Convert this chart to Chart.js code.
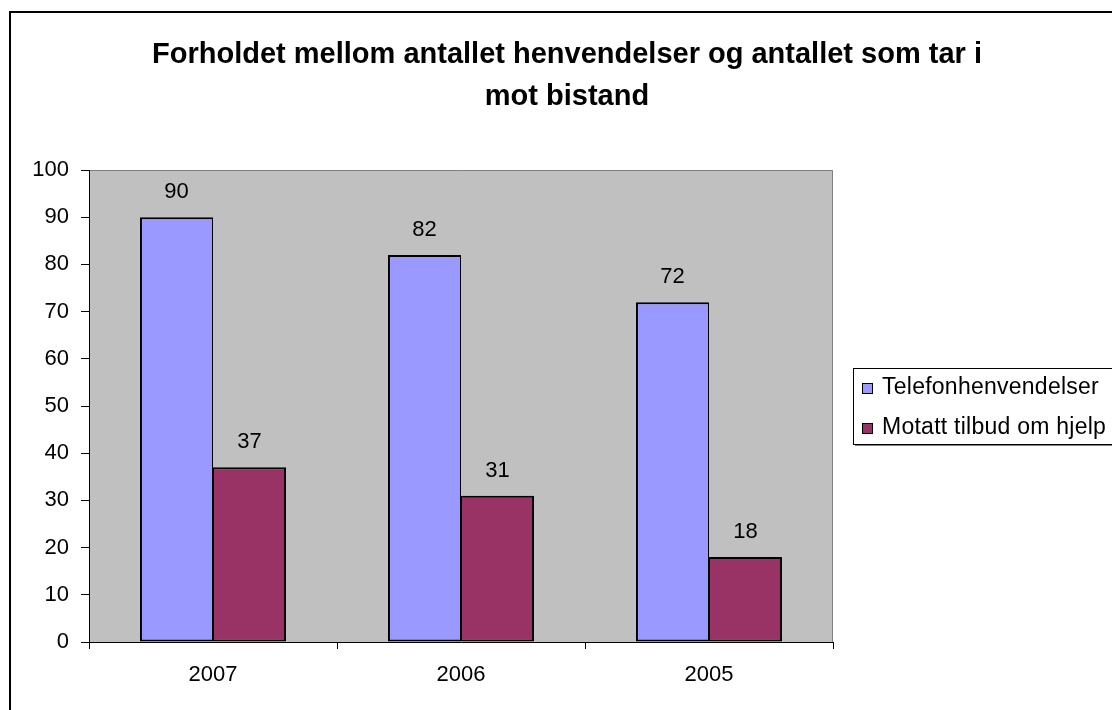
<!DOCTYPE html>
<html>
<head>
<meta charset="utf-8">
<title>Forholdet mellom antallet henvendelser og antallet som tar i mot bistand</title>
<script src="https://cdn.jsdelivr.net/npm/chart.js@4"></script>
<style>
  html, body { margin: 0; padding: 0; background: #fff; overflow: hidden; }
  #wrap { width: 1112px; height: 710px; }
</style>
</head>
<body>
<div id="wrap"><canvas id="chart" width="1112" height="710"></canvas></div>
<script>
// ---- data ----
const categories   = ['2007', '2006', '2005'];
const seriesNames  = ['Telefonhenvendelser', 'Motatt tilbud om hjelp'];
const telefon      = [90, 82, 72];
const motatt       = [37, 31, 18];
const yMin = 0, yMax = 100, yStep = 10;
const titleLines   = ['Forholdet mellom antallet henvendelser og antallet som tar i', 'mot bistand'];
const seriesColors = ['#9999FF', '#993366'];

const FONT = '"Liberation Sans", Arial, Helvetica, sans-serif';

// plot background, title, legend, frame and value labels
const decorPlugin = {
  id: 'decor',
  beforeDraw(chart) {
    const { ctx, chartArea: a } = chart;
    ctx.save();
    ctx.fillStyle = '#C0C0C0';
    ctx.fillRect(a.left, a.top, a.right - a.left, a.bottom - a.top);
    ctx.strokeStyle = '#808080';
    ctx.lineWidth = 1;
    ctx.beginPath();
    ctx.moveTo(a.left, a.top + 0.5);
    ctx.lineTo(a.right - 0.5, a.top + 0.5);
    ctx.lineTo(a.right - 0.5, a.bottom);
    ctx.stroke();
    ctx.restore();
  },
  afterDatasetsDraw(chart) {
    const { ctx } = chart;
    ctx.save();
    ctx.font = '22px ' + FONT;
    ctx.fillStyle = '#000';
    ctx.textAlign = 'center';
    ctx.textBaseline = 'alphabetic';
    chart.data.datasets.forEach((ds, i) => {
      chart.getDatasetMeta(i).data.forEach((bar, j) => {
        ctx.fillText(String(ds.data[j]), bar.x, bar.y - 19);
      });
    });
    ctx.restore();
  },
  afterDraw(chart) {
    const { ctx } = chart;
    ctx.save();
    // outer frame
    ctx.strokeStyle = '#000';
    ctx.lineWidth = 2;
    ctx.strokeRect(10, 12, 1200, 800);

    // title
    ctx.fillStyle = '#000';
    ctx.font = 'bold 29px ' + FONT;
    ctx.textAlign = 'center';
    ctx.textBaseline = 'alphabetic';
    ctx.fillText(titleLines[0], 567, 63);
    ctx.fillText(titleLines[1], 567, 105);

    // legend
    const lx = 853, ly = 368, lw = 400, lh = 76;
    ctx.fillStyle = '#808080';
    ctx.fillRect(lx + 2, ly + lh, lw, 2);
    ctx.fillStyle = '#fff';
    ctx.fillRect(lx, ly, lw, lh);
    ctx.strokeStyle = '#000';
    ctx.lineWidth = 1;
    ctx.strokeRect(lx + 0.5, ly + 0.5, lw, lh);
    ctx.font = '23px ' + FONT;
    ctx.letterSpacing = '0.25px';
    ctx.textAlign = 'left';
    chart.data.datasets.forEach((ds, i) => {
      const rowBase = 394 + i * 40;
      ctx.fillStyle = ds.backgroundColor;
      ctx.fillRect(862, rowBase - 11, 11, 11);
      ctx.strokeStyle = '#000';
      ctx.strokeRect(862.5, rowBase - 10.5, 10, 10);
      ctx.fillStyle = '#000';
      ctx.fillText(ds.label, 882, rowBase);
    });
    ctx.restore();
  }
};

new Chart(document.getElementById('chart'), {
  type: 'bar',
  data: {
    labels: categories,
    datasets: [
      { label: seriesNames[0], data: telefon, backgroundColor: seriesColors[0], borderColor: '#000',
        borderWidth: { top: 2, left: 2, right: 1, bottom: 2 }, borderSkipped: false },
      { label: seriesNames[1], data: motatt,  backgroundColor: seriesColors[1], borderColor: '#000',
        borderWidth: { top: 2, left: 1, right: 2, bottom: 2 }, borderSkipped: false },
    ]
  },
  options: {
    responsive: false,
    animation: false,
    devicePixelRatio: 1,
    layout: { padding: { left: 0, right: 279, top: 170, bottom: 0 } },
    datasets: { bar: { barPercentage: 1, categoryPercentage: 0.589 } },
    plugins: {
      legend: { display: false },
      title: { display: false },
      tooltip: { enabled: false }
    },
    scales: {
      x: {
        offset: true,
        grid: { offset: true, drawOnChartArea: false, drawTicks: true, tickLength: 7, color: '#000' },
        border: { display: true, color: '#000', width: 1 },
        ticks: { color: '#000', font: { family: FONT, size: 22 }, padding: 13 },
        afterFit: s => { s.height = 68; }
      },
      y: {
        min: yMin, max: yMax,
        grid: { drawOnChartArea: false, drawTicks: true, tickLength: 8, color: '#000' },
        border: { display: true, color: '#000', width: 1 },
        ticks: { stepSize: yStep, color: '#000', font: { family: FONT, size: 22 }, padding: 12 },
        afterFit: s => { s.width = 89; }
      }
    }
  },
  plugins: [decorPlugin]
});
</script>
</body>
</html>
